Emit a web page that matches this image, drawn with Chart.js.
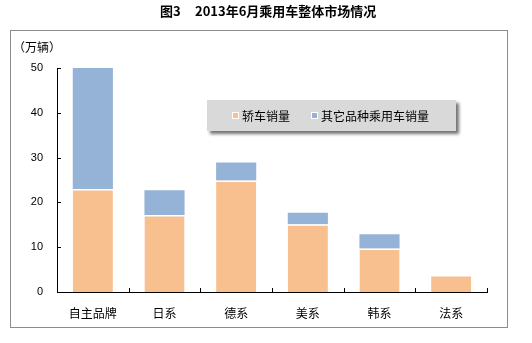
<!DOCTYPE html>
<html>
<head>
<meta charset="utf-8">
<script src="https://cdn.jsdelivr.net/npm/chart.js@4"></script>
<style>
  html, body { margin: 0; padding: 0; background: #fff; }
  #wrap { width: 532px; height: 343px; }
</style>
</head>
<body>
<div id="wrap"><canvas id="grafico" width="532" height="343"></canvas></div>
<script>
// dados (万辆)
const categorias = ['自主品牌', '日系', '德系', '美系', '韩系', '法系']
const jiaoche = [23.0, 17.2, 24.9, 15.1, 9.7, 3.8]        // 轿车销量
const outros = [27.0, 5.5, 4.0, 2.6, 3.2, 0]              // 其它品种乘用车销量
const nomesSeries = ['轿车销量', '其它品种乘用车销量']
const ticksY = [0, 10, 20, 30, 40, 50]

const tituloNum = '图3'
const titulo = '2013年6月乘用车整体市场情况'
const unidade = '（万辆）'

const corLaranja = '#F9C08F'
const corAzul = '#95B3D7'
const fonteCJK = '"Noto Sans CJK SC", "Noto Sans", sans-serif'

// desenha titulo, moldura, ticks internos e a legenda
const extras = {
    id: 'extras',
    afterDraw(chart) {
        const c = chart.ctx
        const area = chart.chartArea
        const sx = chart.scales.x
        const sy = chart.scales.y

        c.save()
        // moldura externa
        c.strokeStyle = '#8c8c8c'
        c.lineWidth = 1
        c.strokeRect(10.5, 30.5, 497, 297)

        // titulo (numero e texto separados, como no original)
        c.fillStyle = '#000'
        c.font = 'bold 13px ' + fonteCJK
        c.textAlign = 'left'
        c.textBaseline = 'middle'
        c.fillText(tituloNum, 160, 11)
        c.fillText(titulo, 195, 11)

        // unidade
        c.font = '12px ' + fonteCJK
        c.fillText(unidade, 13, 47)

        // ticks internos no eixo y
        c.strokeStyle = '#000'
        c.beginPath()
        sy.ticks.forEach(t => {
            const y = Math.round(sy.getPixelForValue(t.value)) + 0.5
            c.moveTo(area.left, y)
            c.lineTo(area.left + 4, y)
        })
        // ticks internos no eixo x (entre categorias)
        const passo = sx.getPixelForTick(1) - sx.getPixelForTick(0)
        for (let i = 1; i <= categorias.length; i++) {
            const x = Math.round(sx.getPixelForTick(i - 1) + passo / 2) + 0.5
            c.moveTo(x, area.bottom)
            c.lineTo(x, area.bottom - 4)
        }
        c.stroke()

        // legenda com sombra
        const lx = 207, ly = 100, lw = 249, lh = 31
        c.save()
        c.shadowColor = 'rgba(0,0,0,0.55)'
        c.shadowBlur = 3
        c.shadowOffsetX = 3
        c.shadowOffsetY = 3
        c.fillStyle = '#D9D9D9'
        c.fillRect(lx, ly, lw, lh)
        c.restore()

        c.font = '12px ' + fonteCJK
        c.textBaseline = 'middle'
        const cores = [corLaranja, corAzul]
        const posX = [232, 311]
        nomesSeries.forEach((nome, i) => {
            c.fillStyle = cores[i]
            c.fillRect(posX[i], 112, 7, 7)
            c.strokeStyle = '#fff'
            c.strokeRect(posX[i] + 0.5, 112.5, 6, 6)
            c.fillStyle = '#000'
            c.fillText(nome, posX[i] + 10, 116)
        })
        c.restore()
    }
}

var ctx = document.getElementById('grafico').getContext('2d')
var grafico = new Chart(ctx, {
    type: 'bar',
    data: {
        labels: categorias,
        datasets: [{
            label: nomesSeries[0],
            data: jiaoche,
            backgroundColor: corLaranja,
            borderColor: '#fff',
            borderWidth: {top: 1.5, left: 0, right: 0, bottom: 0},
            borderSkipped: false
        }, {
            label: nomesSeries[1],
            data: outros,
            backgroundColor: corAzul,
            borderWidth: 0
        }]
    },
    options: {
        responsive: false,
        animation: false,
        events: [],
        layout: {
            padding: {left: 0, right: 45, top: 68, bottom: 0}
        },
        datasets: {
            bar: {categoryPercentage: 1, barPercentage: 0.56}
        },
        plugins: {
            legend: {display: false},
            title: {display: false},
            tooltip: {enabled: false}
        },
        scales: {
            x: {
                stacked: true,
                grid: {display: false, drawTicks: false},
                border: {display: true, color: '#000', width: 1},
                ticks: {
                    color: '#000',
                    padding: 14,
                    font: {family: fonteCJK, size: 12}
                },
                afterFit(scale) { scale.height = 51 }
            },
            y: {
                stacked: true,
                min: 0,
                max: 50,
                afterBuildTicks(scale) { scale.ticks = ticksY.map(v => ({value: v})) },
                grid: {display: false, drawTicks: false},
                border: {display: true, color: '#000', width: 1},
                ticks: {
                    color: '#000',
                    padding: 14,
                    font: {family: '"Liberation Sans", Arial, sans-serif', size: 11}
                },
                afterFit(scale) { scale.width = 57 }
            }
        }
    },
    plugins: [extras]
})
</script>
</body>
</html>
